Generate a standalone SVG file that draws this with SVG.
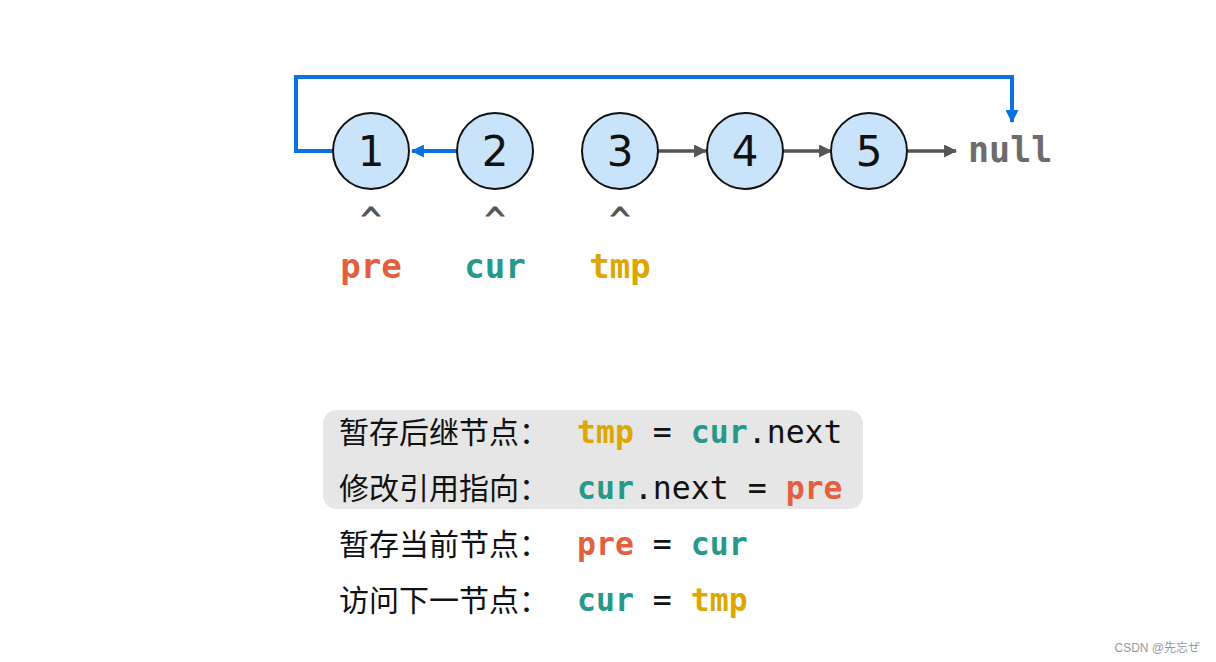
<svg xmlns="http://www.w3.org/2000/svg" width="1216" height="662" viewBox="0 0 1216 662">
<defs>
<marker id="ab" viewBox="0 0 12 12" refX="11" refY="6" markerWidth="13" markerHeight="13" markerUnits="userSpaceOnUse" orient="auto"><path d="M0,0 L12,6 L0,12 Z" fill="#0a72e0"/></marker>
<marker id="ag" viewBox="0 0 12 12" refX="11" refY="6" markerWidth="13" markerHeight="13" markerUnits="userSpaceOnUse" orient="auto"><path d="M0,0 L12,6 L0,12 Z" fill="#555"/></marker>
<style>
.n{fill:#c9e3fb;stroke:#111;stroke-width:2}
.nt{font-family:"DejaVu Sans","Noto Sans",sans-serif;font-size:42px;fill:#111;text-anchor:middle}
.blue{fill:none;stroke:#0a72e0;stroke-width:4}
.gray{fill:none;stroke:#555;stroke-width:3.5}
.mono{font-family:"DejaVu Sans Mono","Liberation Mono",monospace}
.b{font-weight:bold}
.pre{fill:#e35f3e}
.cur{fill:#26998a}
.tmp{fill:#dca700}
.cn{font-family:"Noto Sans CJK SC","Noto Sans",sans-serif;font-size:30px;fill:#111}
.code{font-family:"DejaVu Sans Mono","Liberation Mono",monospace;font-size:31.5px;fill:#111}
.caret{font-family:"DejaVu Sans Mono",monospace;font-size:34px;fill:#555;text-anchor:middle;stroke:#555;stroke-width:0.8}
.lbl{font-family:"DejaVu Sans Mono",monospace;font-size:34px;font-weight:bold;text-anchor:middle}
</style>
</defs>
<rect width="1216" height="662" fill="#fff"/>
<g id="connectors">
<path class="blue" d="M333,151 H296 V77 H1012 V122" marker-end="url(#ab)"/>
<path class="blue" d="M457,151 H412" marker-end="url(#ab)"/>
<path class="gray" d="M658,151 H706" marker-end="url(#ag)"/>
<path class="gray" d="M783,151 H831" marker-end="url(#ag)"/>
<path class="gray" d="M908,151 H956" marker-end="url(#ag)"/>
</g>
<g id="node1"><circle class="n" cx="371" cy="151" r="38"/><text class="nt" x="371" y="166">1</text></g>
<g id="node2"><circle class="n" cx="495" cy="151" r="38"/><text class="nt" x="495" y="166">2</text></g>
<g id="node3"><circle class="n" cx="620" cy="151" r="38"/><text class="nt" x="620" y="166">3</text></g>
<g id="node4"><circle class="n" cx="745" cy="151" r="38"/><text class="nt" x="745" y="166">4</text></g>
<g id="node5"><circle class="n" cx="869" cy="151" r="38"/><text class="nt" x="869" y="166">5</text></g>
<g id="null"><text class="mono b" x="968" y="162" font-size="35" fill="#6f6b6b">null</text></g>
<g id="pointers">
<text class="caret" x="371" y="232">^</text>
<text class="caret" x="495" y="232">^</text>
<text class="caret" x="620" y="232">^</text>
<text class="lbl pre" x="371" y="278">pre</text>
<text class="lbl cur" x="495" y="278">cur</text>
<text class="lbl tmp" x="620" y="278">tmp</text>
</g>
<g id="code">
<rect x="323" y="410" width="540" height="99" rx="14" fill="#e6e6e6"/>
<text class="cn" x="339" y="443">暂存后继节点：</text>
<text class="code" x="577" y="443"><tspan class="b tmp">tmp</tspan> = <tspan class="b cur">cur</tspan>.next</text>
<text class="cn" x="339" y="499">修改引用指向：</text>
<text class="code" x="577" y="499"><tspan class="b cur">cur</tspan>.next = <tspan class="b pre">pre</tspan></text>
<text class="cn" x="339" y="555">暂存当前节点：</text>
<text class="code" x="577" y="555"><tspan class="b pre">pre</tspan> = <tspan class="b cur">cur</tspan></text>
<text class="cn" x="339" y="611">访问下一节点：</text>
<text class="code" x="577" y="611"><tspan class="b cur">cur</tspan> = <tspan class="b tmp">tmp</tspan></text>
</g>
<text x="1200" y="652" text-anchor="end" font-family="'Liberation Sans','Noto Sans CJK JP',sans-serif" font-size="12" fill="#999">CSDN @先忘ぜ</text>
</svg>
